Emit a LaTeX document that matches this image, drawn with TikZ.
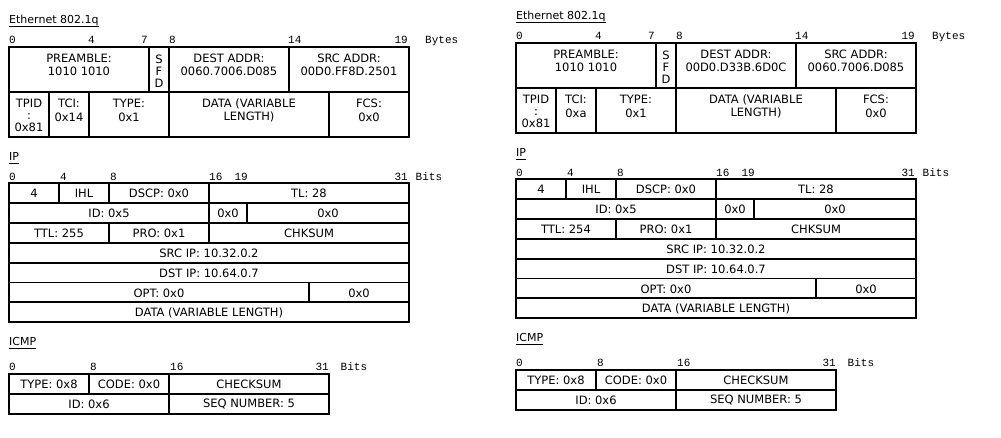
\documentclass[tikz,border=0pt]{standalone}
\usepackage{fontspec}
\setmainfont{DejaVu Sans}
\newfontfamily\hdrfont{Liberation Mono}
\usetikzlibrary{calc}
\tikzset{
  cell/.style={draw=black, line width=1.8pt, inner sep=0pt, rectangle},
  celltext/.style={font=\fontsize{11.5}{13.5}\selectfont, align=center, inner sep=0pt, text=black},
  hdr/.style={font=\hdrfont\fontsize{11}{13}\selectfont, inner sep=0pt, text=black},
  ttl/.style={font=\fontsize{11}{13}\selectfont, inner sep=0pt, anchor=base west, text=black},
}
\newcommand\ulttl[1]{\underline{\smash{#1}\rule[-1.4pt]{0pt}{0pt}}}
\newcommand\mkcell[7]{%
  \pgfmathsetmacro\cellW{#4-#2}%
  \pgfmathsetmacro\cellH{#5-#3}%
  \node[cell, minimum width=\cellW pt, minimum height=\cellH pt] (#1) at ({(#2+#4)/2},{(#3+#5)/2}) {};%
  \node[celltext] (#1-t) at ([yshift=#6pt]#1.center) {#7};%
}
\newcommand\drawpanel[5]{%
  % Ethernet
  \node[ttl] (#1eth) at (9,23) {\ulttl{Ethernet 802.1q}};
  \node[hdr, anchor=base west] (#1b0) at (9,43.5) {0};
  \node[hdr, anchor=base west] (#1b4) at (88,43.5) {4};
  \node[hdr, anchor=base east] (#1b7) at (148,43.5) {7};
  \node[hdr, anchor=base west] (#1b8) at (169,43.5) {8};
  \node[hdr, anchor=base west] (#1b14) at (288,43.5) {14};
  \node[hdr, anchor=base east] (#1b19) at (408,43.5) {19};
  \node[hdr, anchor=base west] (#1bytes) at (425,43.5) {Bytes};
  \mkcell{#1pre}{9}{47}{149}{92}{4.5}{PREAMBLE:\\1010 1010}
  \mkcell{#1sfd}{149}{47}{169}{92}{-1.5}{S\\[-1.5pt]F\\[-1.5pt]D}
  \mkcell{#1dst}{169}{47}{289}{92}{4.5}{DEST ADDR:\\#2}
  \mkcell{#1src}{289}{47}{409}{92}{4.5}{SRC ADDR:\\#3}
  \mkcell{#1tpid}{9}{92}{49}{137}{-1}{TPID\\[-1.5pt]:\\[-1.5pt]0x81}
  \mkcell{#1tci}{49}{92}{89}{137}{4}{TCI:\\#4}
  \mkcell{#1type}{89}{92}{169}{137}{4}{TYPE:\\0x1}
  \mkcell{#1data}{169}{92}{329}{137}{4}{DATA (VARIABLE\\LENGTH)}
  \mkcell{#1fcs}{329}{92}{409}{137}{4}{FCS:\\0x0}
  % IP
  \node[ttl] (#1ip) at (9,160.5) {\ulttl{IP}};
  \node[hdr, anchor=base west] (#1i0) at (9,180) {0};
  \node[hdr, anchor=base west] (#1i4) at (60,180) {4};
  \node[hdr, anchor=base west] (#1i8) at (110,180) {8};
  \node[hdr, anchor=base west] (#1i16) at (209,180) {16};
  \node[hdr, anchor=base east] (#1i19) at (248,180) {19};
  \node[hdr, anchor=base east] (#1i31) at (408,180) {31};
  \node[hdr, anchor=base west] (#1ibits) at (415.5,180) {Bits};
  \mkcell{#1ver}{9}{183.3}{59}{203.1}{-0.5}{4}
  \mkcell{#1ihl}{59}{183.3}{109}{203.1}{-0.5}{IHL}
  \mkcell{#1dscp}{109}{183.3}{209}{203.1}{-0.5}{DSCP: 0x0}
  \mkcell{#1tl}{209}{183.3}{409}{203.1}{-0.5}{TL: 28}
  \mkcell{#1id}{9}{203.1}{209}{222.9}{-0.5}{ID: 0x5}
  \mkcell{#1flg}{209}{203.1}{247}{222.9}{-0.5}{0x0}
  \mkcell{#1frag}{247}{203.1}{409}{222.9}{-0.5}{0x0}
  \mkcell{#1ttl}{9}{222.9}{109}{242.8}{-0.5}{TTL: #5}
  \mkcell{#1pro}{109}{222.9}{209}{242.8}{-0.5}{PRO: 0x1}
  \mkcell{#1chk}{209}{222.9}{409}{242.8}{-0.5}{CHKSUM}
  \mkcell{#1sip}{9}{242.8}{409}{262.6}{-0.5}{SRC IP: 10.32.0.2}
  \mkcell{#1dip}{9}{262.6}{409}{282.4}{-0.5}{DST IP: 10.64.0.7}
  \mkcell{#1opt}{9}{282.4}{309}{302.3}{-0.5}{OPT: 0x0}
  \mkcell{#1pad}{309}{282.4}{409}{302.3}{-0.5}{0x0}
  \mkcell{#1ipd}{9}{302.3}{409}{322.1}{-0.5}{DATA (VARIABLE LENGTH)}
  % ICMP
  \node[ttl] (#1icmp) at (9,345.7) {\ulttl{ICMP}};
  \node[hdr, anchor=base west] (#1c0) at (9,370.5) {0};
  \node[hdr, anchor=base west] (#1c8) at (90,370.5) {8};
  \node[hdr, anchor=base west] (#1c16) at (170,370.5) {16};
  \node[hdr, anchor=base east] (#1c31) at (329,370.5) {31};
  \node[hdr, anchor=base west] (#1cbits) at (340.5,370.5) {Bits};
  \mkcell{#1ctype}{9}{374.3}{89}{394}{-0.5}{TYPE: 0x8}
  \mkcell{#1ccode}{89}{374.3}{169}{394}{-0.5}{CODE: 0x0}
  \mkcell{#1ccsum}{169}{374.3}{329}{394}{-0.5}{CHECKSUM}
  \mkcell{#1cid}{9}{394}{169}{413.6}{-0.5}{ID: 0x6}
  \mkcell{#1cseq}{169}{394}{329}{413.6}{-0.5}{SEQ NUMBER: 5}
}
\begin{document}
\begin{tikzpicture}[x=1pt, y=-1pt]
  \fill[white] (0,0) rectangle (1001,437);
  \useasboundingbox (0,0) rectangle (1001,437);
  \drawpanel{L}{0060.7006.D085}{00D0.FF8D.2501}{0x14}{255}
  \begin{scope}[shift={(507,-4)}]
    \drawpanel{R}{00D0.D33B.6D0C}{0060.7006.D085}{0xa}{254}
  \end{scope}
\end{tikzpicture}
\end{document}
